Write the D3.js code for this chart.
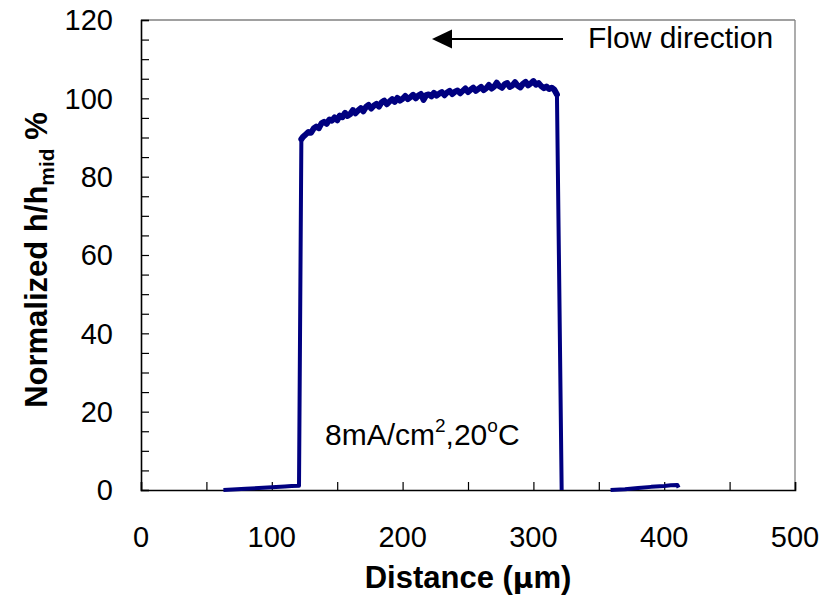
<!DOCTYPE html>
<html lang="en">
<head>
<meta charset="UTF-8">
<title>Normalized h/hmid</title>
<script src="https://d3js.org/d3.v7.min.js"></script>
<style>
  body { margin: 0; background: #fff; }
  text { font-family: "Liberation Sans", Arial, sans-serif; }
</style>
</head>
<body>
<script>
// distance (um) and normalized height (%), null = gap
var distance = [63, 70, 80, 90, 100, 110, 115, 120.8, 122.6,
  124, 126, 128, 130, 132, 134, 136, 138, 140, 142, 144, 146, 148, 150, 152, 154, 156, 158,
  160, 162, 164, 166, 168, 170, 172, 174, 176, 178, 180, 182, 184, 186, 188, 190, 192, 194,
  196, 198, 200, 202, 204, 206, 208, 210, 212, 214, 216, 218, 220, 222, 224, 226, 228, 230,
  232, 234, 236, 238, 240, 242, 244, 246, 248, 250, 252, 254, 256, 258, 260, 262, 264, 266,
  268, 270, 272, 274, 276, 278, 280, 282, 284, 286, 288, 290, 292, 294, 296, 298, 300, 302,
  304, 306, 308, 310, 312, 314, 316, 318, 319.5, 321.6,
  340,
  359, 370, 380, 390, 400, 405, 410, 411];
var height = [0, 0.1, 0.3, 0.5, 0.7, 0.9, 1.0, 1.1, 89.6,
  90.2, 90.8, 91.4, 91.2, 92.3, 92.8, 92.4, 93.6, 94.0, 93.5, 94.6, 94.3, 95.1, 94.4, 95.6, 95.2, 96.3, 95.5,
  96.0, 97.0, 96.2, 96.9, 97.5, 96.7, 97.8, 98.3, 97.4, 98.1, 98.6, 97.9, 99.0, 99.4, 98.5, 99.2, 99.8, 99.1,
  100.1, 99.4, 99.9, 100.6, 99.8, 100.3, 100.9, 100.0, 100.7, 101.1, 99.6, 100.8, 101.0, 100.5, 101.4, 100.7, 101.2, 101.6,
  100.8, 101.5, 101.9, 101.1, 101.7, 102.0, 101.3, 101.9, 102.5, 101.6, 102.2, 102.7, 101.9, 102.4, 102.9, 102.1, 102.6, 103.4,
  102.5, 103.0, 104.0, 103.1, 102.7, 103.6, 103.9, 102.9, 103.3, 104.1, 103.2, 102.8, 103.7, 104.2, 103.3, 103.8, 104.4, 103.5,
  103.9, 103.1, 102.6, 103.0, 102.4, 102.7, 102.2, 101.0, 60, 0,
  null,
  0, 0.2, 0.5, 0.8, 1.0, 1.2, 1.3, 0.6];

var xTicks = [0, 100, 200, 300, 400, 500];
var yTicks = [0, 20, 40, 60, 80, 100, 120];

var w = 827, h = 603;
var mLeft = 141, mRight = 795, mTop = 20, mBottom = 490;

var svg = d3.select('body').append('svg')
  .attr('width', w)
  .attr('height', h);

var x = d3.scaleLinear().domain([0, 500]).range([mLeft, mRight]);
var y = d3.scaleLinear().domain([0, 120]).range([mBottom, mTop]);

// box: top and right edges in grey
svg.append('line').attr('x1', mLeft).attr('x2', mRight).attr('y1', mTop).attr('y2', mTop)
  .attr('stroke', '#808080').attr('stroke-width', 1.3);
svg.append('line').attr('x1', mRight).attr('x2', mRight).attr('y1', mTop).attr('y2', mBottom)
  .attr('stroke', '#808080').attr('stroke-width', 1.3);

// inward ticks
var yAxis = d3.axisRight(y).tickValues(d3.range(0, 121, 5)).tickSize(8).tickFormat('');
var xAxis = d3.axisTop(x).tickValues(d3.range(0, 501, 50)).tickSize(8).tickFormat('');

var gy = svg.append('g').attr('transform', 'translate(' + mLeft + ',0)').call(yAxis);
var gx = svg.append('g').attr('transform', 'translate(0,' + mBottom + ')').call(xAxis);
[gx, gy].forEach(function (g) {
  g.select('.domain').attr('stroke', '#000').attr('stroke-width', 1.6);
  g.selectAll('.tick line').attr('stroke', '#000').attr('stroke-width', 1.2);
});

// tick labels
svg.selectAll('.ylab').data(yTicks).enter().append('text')
  .attr('x', 113).attr('y', function (d) { return y(d); })
  .attr('dy', '0.36em').attr('text-anchor', 'end')
  .attr('font-size', 29).text(function (d) { return d; });
svg.selectAll('.xlab').data(xTicks).enter().append('text')
  .attr('x', function (d) { return x(d); }).attr('y', 547)
  .attr('text-anchor', 'middle')
  .attr('font-size', 29).text(function (d) { return d; });

// axis titles
var xt = svg.append('text').attr('x', 468).attr('y', 588)
  .attr('text-anchor', 'middle').attr('font-size', 31).attr('font-weight', 'bold');
xt.append('tspan').text('Distance (');
xt.append('tspan').attr('font-family', '"DejaVu Sans", sans-serif').attr('font-size', 28).text('μ');
xt.append('tspan').text('m)');

var yt = svg.append('text')
  .attr('transform', 'translate(47,260) rotate(-90)')
  .attr('text-anchor', 'middle').attr('font-size', 31).attr('font-weight', 'bold');
yt.append('tspan').text('Normalized h/h');
yt.append('tspan').attr('font-size', 21).attr('dy', 7).text('mid');
yt.append('tspan').attr('dy', -7).text(' %');

// data line: thinner baseline, thicker plateau on top
var line = d3.line()
  .defined(function (d, i) { return height[i] !== null; })
  .x(function (d) { return x(d); })
  .y(function (d, i) { return y(height[i]); });

svg.append('path').datum(distance)
  .attr('d', line)
  .attr('fill', 'none')
  .attr('stroke', '#000080')
  .attr('stroke-width', 4)
  .attr('stroke-linejoin', 'round');

var topLine = d3.line()
  .defined(function (d, i) { return height[i] !== null && height[i] > 80; })
  .x(function (d) { return x(d); })
  .y(function (d, i) { return y(height[i]); });

svg.append('path').datum(distance)
  .attr('d', topLine)
  .attr('fill', 'none')
  .attr('stroke', '#000080')
  .attr('stroke-width', 6)
  .attr('stroke-linejoin', 'round')
  .attr('stroke-linecap', 'round');

// annotations
var ann = svg.append('text').attr('x', 325).attr('y', 445).attr('font-size', 30);
ann.append('tspan').text('8mA/cm');
ann.append('tspan').attr('font-size', 19).attr('dy', -13).text('2');
ann.append('tspan').attr('dy', 13).text(',20');
ann.append('tspan').attr('font-size', 19).attr('dy', -13).text('o');
ann.append('tspan').attr('dy', 13).text('C');

svg.append('text').attr('x', 588).attr('y', 48).attr('font-size', 30).text('Flow direction');

// arrow pointing left
svg.append('line').attr('x1', 563).attr('x2', 448).attr('y1', 39).attr('y2', 39)
  .attr('stroke', '#000').attr('stroke-width', 2);
svg.append('path').attr('d', 'M432,39 L452,29.5 L452,48.5 Z').attr('fill', '#000');
</script>
</body>
</html>
